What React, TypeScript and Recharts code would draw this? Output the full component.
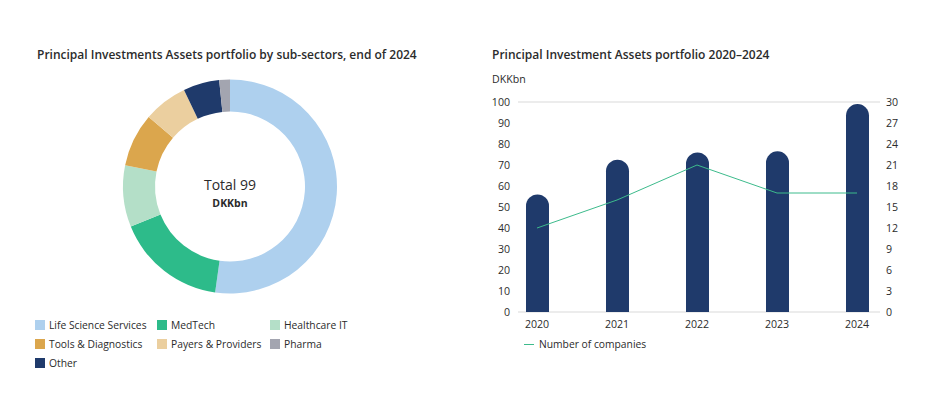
import React from 'react'
import {
  PieChart,
  Pie,
  Cell,
  ComposedChart,
  Bar,
  Line,
  XAxis,
  YAxis,
  CartesianGrid,
} from 'recharts'

// donut: clockwise from 12 o'clock
const sectors = ['Life Science Services', 'MedTech', 'Healthcare IT', 'Tools & Diagnostics', 'Payers & Providers', 'Other', 'Pharma']
const sectorValues = [51.7, 16.5, 9.2, 8.0, 6.6, 5.4, 1.6]
const sectorColors = ['#aed0ee', '#2dbb8a', '#b4dfc8', '#dba64d', '#ebcf9f', '#1f3a6b', '#a3a5b0']
const legendOrder = ['Life Science Services', 'MedTech', 'Healthcare IT', 'Tools & Diagnostics', 'Payers & Providers', 'Pharma', 'Other']

// bars + line
const years = ['2020', '2021', '2022', '2023', '2024']
const portfolio = [56, 72.5, 76, 76.5, 99]
const companies = [12, 16, 21, 17, 17]
const leftTicks = [0, 10, 20, 30, 40, 50, 60, 70, 80, 90, 100]
const rightTicks = [0, 3, 6, 9, 12, 15, 18, 21, 24, 27, 30]

const FONT = '"Open Sans", sans-serif'
const TEXT = '#2b2b2b'

const pieData = sectors.map((name, i) => ({ name, value: sectorValues[i] }))
const barData = years.map((year, i) => ({ year, portfolio: portfolio[i], companies: companies[i] }))

const legendCols = [35, 157, 270]
const legendRows = [320, 339, 358]

export default function App() {
  const tick = { fill: TEXT, fontSize: 10.6, fontFamily: FONT }
  return (
    <div style={{ position: 'absolute', left: 0, top: 0, width: 926, height: 398, background: '#fff', fontFamily: FONT, color: TEXT }}>
      <div style={{ position: 'absolute', left: 37, top: 46, fontSize: 12, fontWeight: 600, whiteSpace: 'nowrap' }}>
        Principal Investments Assets portfolio by sub-sectors, end of 2024
      </div>
      <div style={{ position: 'absolute', left: 0, top: 0 }}>
        <PieChart width={460} height={398} margin={{ top: 0, right: 0, bottom: 0, left: 0 }}>
          <Pie
            data={pieData}
            dataKey="value"
            cx={230}
            cy={186.5}
            innerRadius={75}
            outerRadius={107}
            startAngle={90}
            endAngle={-270}
            stroke="none"
            isAnimationActive={false}
          >
            {pieData.map((d, i) => (
              <Cell key={d.name} fill={sectorColors[i]} />
            ))}
          </Pie>
        </PieChart>
      </div>
      <div style={{ position: 'absolute', left: 130, width: 200, top: 176, textAlign: 'center', fontSize: 14, lineHeight: '18px' }}>
        Total 99
      </div>
      <div style={{ position: 'absolute', left: 130, width: 200, top: 195, textAlign: 'center', fontSize: 10.5, fontWeight: 700, lineHeight: '16px' }}>
        DKKbn
      </div>
      {legendOrder.map((name, i) => {
        const color = sectorColors[sectors.indexOf(name)]
        const x = legendCols[i % 3]
        const y = legendRows[Math.floor(i / 3)]
        return (
          <div key={name} style={{ position: 'absolute', left: x, top: y, display: 'flex', alignItems: 'center', fontSize: 10.3, whiteSpace: 'nowrap' }}>
            <span style={{ width: 10, height: 10, background: color, marginRight: 4, display: 'inline-block' }} />
            <span style={{ lineHeight: '10px' }}>{name}</span>
          </div>
        )
      })}

      <div style={{ position: 'absolute', left: 492, top: 46, fontSize: 12, fontWeight: 600, whiteSpace: 'nowrap' }}>
        Principal Investment Assets portfolio 2020–2024
      </div>
      <div style={{ position: 'absolute', left: 492, top: 72, fontSize: 10.6 }}>DKKbn</div>
      <div style={{ position: 'absolute', left: 470, top: 0 }}>
        <ComposedChart width={456} height={398} data={barData} margin={{ top: 102, right: 6, bottom: 56, left: 0 }}>
          <CartesianGrid horizontal vertical={false} stroke="#d9d9d9" strokeWidth={1.2} />
          <XAxis
            dataKey="year"
            axisLine={false}
            tickLine={false}
            tick={tick}
            height={30}
            padding={{ left: -21, right: -17 }}
            interval={0}
          />
          <YAxis
            yAxisId="left"
            domain={[0, 100]}
            ticks={leftTicks}
            axisLine={false}
            tickLine={false}
            tick={tick}
            width={48}
            interval={0}
          />
          <YAxis
            yAxisId="right"
            orientation="right"
            domain={[0, 30]}
            ticks={rightTicks}
            axisLine={false}
            tickLine={false}
            tick={{ ...tick, textAnchor: 'start' }}
            tickMargin={0}
            width={40}
            interval={0}
          />
          <Bar yAxisId="left" dataKey="portfolio" fill="#1f3a6b" barSize={23} radius={[11.5, 11.5, 0, 0]} isAnimationActive={false} />
          <Line yAxisId="right" dataKey="companies" stroke="#3dbb8c" strokeWidth={1} dot={false} activeDot={false} isAnimationActive={false} />
        </ComposedChart>
      </div>
      <div style={{ position: 'absolute', left: 524, top: 337, display: 'flex', alignItems: 'center', fontSize: 10.3, whiteSpace: 'nowrap' }}>
        <span style={{ width: 10, height: 1, background: '#3dbb8c', marginRight: 5, display: 'inline-block' }} />
        <span>Number of companies</span>
      </div>
    </div>
  )
}
